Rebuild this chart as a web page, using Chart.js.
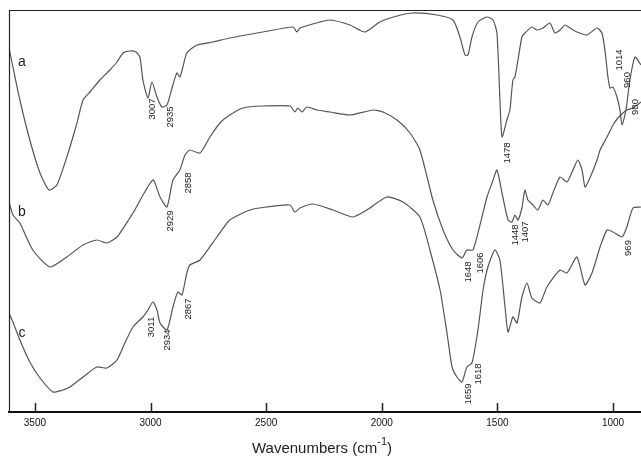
<!DOCTYPE html>
<html>
<head>
<meta charset="utf-8">
<script src="https://cdn.jsdelivr.net/npm/chart.js@4/dist/chart.umd.min.js"></script>
<style>
  html, body { margin: 0; padding: 0; background: #fff; }
  #wrap { width: 641px; height: 458px; }
</style>
</head>
<body>
<div id="wrap"><canvas id="chart" width="641" height="458"></canvas></div>
<script>
// x values are wavenumbers (cm-1), y values are transmittance in arbitrary units (spectra offset)
const waveA = [3612, 3595, 3565, 3522, 3478, 3439, 3405, 3362, 3318, 3292, 3262, 3219, 3176, 3145, 3119, 3089, 3063, 3046, 3033, 3011,
  2994, 2972, 2951, 2929, 2907, 2886, 2873, 2860, 2843, 2799, 2730, 2657, 2514, 2384, 2367, 2354, 2267, 2224, 2138, 2073,
  2008, 1934, 1865, 1761, 1692, 1662, 1640, 1627, 1610, 1584, 1545, 1519, 1502, 1489, 1480, 1459, 1446, 1433, 1424, 1411,
  1394, 1381, 1351, 1329, 1303, 1273, 1251, 1229, 1208, 1186, 1156, 1113, 1069, 1048, 1035, 1022, 1013, 1000, 983, 970,
  961, 944, 927, 905, 879];
const specA = [364, 345, 312, 272, 239, 222, 227, 255, 289, 312, 320, 332, 342, 350, 359, 361, 360, 355, 332, 314,
  330, 315, 305, 307, 324, 339, 335, 345, 359, 367, 370, 374, 380, 385, 380, 384, 390, 392, 387, 380,
  390, 396, 399, 397, 392, 375, 357, 357, 375, 390, 395, 392, 379, 312, 275, 292, 302, 332, 335, 352,
  375, 379, 385, 382, 384, 389, 379, 382, 387, 384, 380, 377, 384, 379, 362, 335, 324, 325, 315, 302,
  287, 302, 332, 355, 347];

const waveB = [3612, 3595, 3565, 3509, 3435, 3362, 3292, 3232, 3189, 3145, 3076, 2990, 2959, 2929, 2903, 2873, 2851, 2830, 2786, 2743,
  2700, 2657, 2600, 2514, 2397, 2376, 2363, 2345, 2324, 2280, 2224, 2138, 2038, 1995, 1934, 1878, 1835, 1779, 1735, 1692,
  1653, 1632, 1606, 1584, 1545, 1523, 1502, 1480, 1454, 1437, 1424, 1411, 1394, 1381, 1368, 1346, 1325, 1303, 1281, 1260,
  1229, 1199, 1173, 1152, 1134, 1121, 1100, 1069, 1056, 1026, 1000, 979, 957, 940, 914, 879];
const specB = [210, 197, 189, 162, 145, 155, 167, 172, 169, 175, 199, 232, 215, 205, 232, 242, 257, 262, 259, 275,
  289, 297, 304, 306, 306, 300, 304, 300, 305, 302, 300, 297, 302, 300, 292, 279, 262, 212, 182, 162,
  154, 162, 162, 179, 215, 229, 242, 219, 192, 190, 197, 192, 204, 222, 212, 207, 202, 212, 207, 219,
  235, 230, 242, 252, 242, 225, 234, 252, 262, 275, 287, 294, 299, 302, 304, 310];

const waveC = [3612, 3595, 3565, 3522, 3478, 3422, 3379, 3349, 3292, 3232, 3189, 3145, 3111, 3076, 3033, 3011, 2990, 2972, 2959, 2929,
  2903, 2882, 2864, 2843, 2830, 2786, 2713, 2657, 2570, 2497, 2397, 2376, 2354, 2298, 2211, 2125, 2064, 1978, 1908, 1835,
  1792, 1748, 1718, 1696, 1675, 1653, 1632, 1610, 1584, 1562, 1541, 1511, 1489, 1467, 1454, 1433, 1415, 1394, 1372, 1351,
  1316, 1286, 1229, 1199, 1156, 1121, 1091, 1056, 1026, 1000, 961, 940, 914, 879];
const specC = [99, 90, 72, 50, 34, 20, 22, 25, 35, 45, 44, 52, 69, 85, 95, 102, 110, 102, 89, 82,
  105, 120, 117, 139, 147, 152, 175, 192, 202, 205, 207, 200, 204, 208, 202, 195, 202, 215, 210, 195,
  162, 122, 79, 45, 35, 30, 45, 49, 82, 122, 145, 162, 152, 105, 80, 95, 89, 115, 129, 114,
  109, 125, 142, 139, 155, 127, 139, 165, 182, 180, 175, 185, 204, 205];

const tickValues = [3500, 3000, 2500, 2000, 1500, 1000];

// peak label: text, wavenumber, transmittance where the label sits
const peakLabels = [
  ['3007', 2994, 303], ['2935', 2916, 295], ['1478', 1459, 259], ['1014', 974, 352], ['960', 940, 332], ['980', 905, 305],
  ['2929', 2916, 191], ['2858', 2838, 229], ['1648', 1627, 140], ['1606', 1575, 149], ['1448', 1424, 177], ['1407', 1381, 180], ['969', 935, 164],
  ['3011', 2998, 85], ['2934', 2925, 72], ['2867', 2838, 103], ['1659', 1627, 18], ['1618', 1584, 38]
];
const curveNames = [['a', 3556, 350], ['b', 3556, 200], ['c', 3556, 79]];

const toPoints = (xs, ys) => xs.map((v, i) => ({ x: v, y: ys[i] }));

const lineStyle = {
  borderColor: '#555',
  borderWidth: 1.2,
  pointRadius: 0,
  fill: false,
  tension: 0.2
};

const decorations = {
  id: 'decorations',
  afterDraw(chart) {
    const { ctx, chartArea: area, scales: { x, y } } = chart;
    ctx.save();
    // frame (top and left)
    ctx.strokeStyle = '#222';
    ctx.lineWidth = 1.2;
    ctx.beginPath();
    ctx.moveTo(area.left + 0.5, area.bottom);
    ctx.lineTo(area.left + 0.5, area.top + 0.5);
    ctx.lineTo(area.right, area.top + 0.5);
    ctx.stroke();

    // tick marks pointing into the plot
    ctx.lineWidth = 1.5;
    tickValues.forEach(v => {
      const px = Math.round(x.getPixelForValue(v)) + 0.5;
      ctx.beginPath();
      ctx.moveTo(px, area.bottom);
      ctx.lineTo(px, area.bottom - 9);
      ctx.stroke();
    });

    // peak labels, rotated
    ctx.fillStyle = '#222';
    ctx.font = '9.5px "Liberation Sans", Arial, sans-serif';
    ctx.textAlign = 'center';
    ctx.textBaseline = 'middle';
    peakLabels.forEach(([text, wn, v]) => {
      ctx.save();
      ctx.translate(x.getPixelForValue(wn), y.getPixelForValue(v));
      ctx.rotate(-Math.PI / 2);
      ctx.fillText(text, 0, 0);
      ctx.restore();
    });

    // spectrum letters
    ctx.font = '14px "Liberation Sans", Arial, sans-serif';
    curveNames.forEach(([text, wn, v]) => {
      ctx.fillText(text, x.getPixelForValue(wn), y.getPixelForValue(v));
    });

    // axis title with superscript
    const main = 'Wavenumbers (cm';
    const sup = '-1';
    const tail = ')';
    ctx.font = '15px "Liberation Sans", Arial, sans-serif';
    const wMain = ctx.measureText(main).width;
    const wTail = ctx.measureText(tail).width;
    ctx.font = '11px "Liberation Sans", Arial, sans-serif';
    const wSup = ctx.measureText(sup).width;
    const total = wMain + wSup + wTail;
    let tx = (area.left + area.right) / 2 - 3 - total / 2;
    const ty = 449;
    ctx.textAlign = 'left';
    ctx.textBaseline = 'middle';
    ctx.font = '15px "Liberation Sans", Arial, sans-serif';
    ctx.fillText(main, tx, ty);
    tx += wMain;
    ctx.font = '11px "Liberation Sans", Arial, sans-serif';
    ctx.fillText(sup, tx, ty - 7);
    tx += wSup;
    ctx.font = '15px "Liberation Sans", Arial, sans-serif';
    ctx.fillText(tail, tx, ty);
    ctx.restore();
  }
};

new Chart(document.getElementById('chart').getContext('2d'), {
  type: 'line',
  data: {
    datasets: [
      { label: 'a', data: toPoints(waveA, specA), ...lineStyle },
      { label: 'b', data: toPoints(waveB, specB), ...lineStyle },
      { label: 'c', data: toPoints(waveC, specC), ...lineStyle }
    ]
  },
  options: {
    responsive: false,
    animation: false,
    layout: { padding: { left: 9, top: 10, right: 0, bottom: 0 } },
    plugins: {
      legend: { display: false },
      tooltip: { enabled: false }
    },
    scales: {
      x: {
        type: 'linear',
        reverse: true,
        min: 879,
        max: 3612,
        afterBuildTicks: s => { s.ticks = tickValues.map(v => ({ value: v })); },
        afterFit: s => { s.height = 46; },
        grid: { display: false, drawTicks: false },
        border: { display: true, color: '#111', width: 2 },
        ticks: {
          padding: 5,
          maxRotation: 0,
          autoSkip: false,
          color: '#111',
          callback: v => String(v),
          font: { family: '"Liberation Sans", Arial, sans-serif', size: 10 }
        }
      },
      y: { display: false, min: 0, max: 402 }
    }
  },
  plugins: [decorations]
});
</script>
</body>
</html>
